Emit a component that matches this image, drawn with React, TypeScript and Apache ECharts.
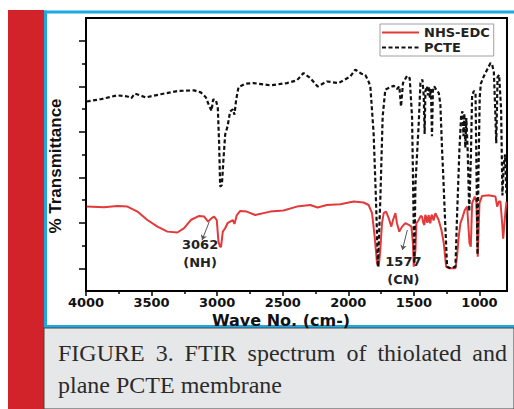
import React, { useEffect, useRef } from "react";
import * as echarts from "echarts";

// ---- data ----
const xTicks = [4000, 3500, 3000, 2500, 2000, 1500, 1000];
const xMinorTicks = [3750, 3250, 2750, 2250, 1750, 1250];
const yMajorTicks = [1, 3, 5, 7, 9, 11];
const yMinorTicks = [2, 4, 6, 8, 10];

const pcteWn = [3995, 3888, 3761, 3684, 3654, 3628, 3545, 3430, 3303, 3176, 3125, 3087, 3061, 3043, 3031, 3010, 2995, 2985, 2977, 2964, 2952, 2939, 2921, 2901, 2880, 2868, 2855, 2837, 2786, 2723, 2595, 2468, 2392, 2341, 2290, 2234, 2163, 2074, 1985, 1947, 1900, 1870, 1845, 1832, 1807, 1789, 1774, 1756, 1738, 1718, 1692, 1654, 1629, 1611, 1598, 1583, 1552, 1532, 1514, 1506, 1497, 1488, 1463, 1450, 1435, 1425, 1418, 1412, 1400, 1392, 1385, 1378, 1370, 1362, 1355, 1345, 1335, 1310, 1298, 1285, 1277, 1265, 1247, 1220, 1183, 1171, 1153, 1140, 1130, 1122, 1115, 1108, 1100, 1090, 1078, 1065, 1056, 1042, 1030, 1022, 1015, 1008, 998, 990, 970, 955, 935, 916, 903, 890, 880, 872, 862, 850, 835, 825, 815, 805, 795];
const pcteT = [8.33, 8.43, 8.6, 8.55, 8.48, 8.68, 8.51, 8.65, 8.79, 8.82, 8.73, 8.52, 8.14, 7.92, 8.41, 8.41, 8.04, 6.5, 4.59, 4.66, 5.77, 6.87, 7.23, 7.89, 7.99, 7.75, 8.41, 8.96, 9.11, 9.14, 9.04, 9.14, 9.26, 9.58, 9.36, 8.99, 9.21, 9.14, 9.43, 9.73, 9.55, 9.5, 9.2, 8.99, 6.94, 4.0, 1.07, 4.0, 7.67, 8.85, 8.92, 9.02, 8.88, 9.0, 8.11, 9.14, 9.46, 9.36, 7.67, 4.7, 1.2, 4.7, 7.38, 9.14, 9.29, 8.6, 6.9, 8.8, 9.0, 8.6, 9.0, 8.5, 8.9, 6.8, 8.8, 9.0, 8.9, 8.7, 8.2, 6.2, 5.2, 3.5, 1.07, 1.0, 1.07, 3.27, 6.2, 7.67, 7.9, 6.8, 7.8, 6.3, 7.6, 6.2, 3.5, 6.0, 8.6, 8.8, 8.7, 5.0, 1.6, 5.0, 8.5, 9.1, 9.4, 9.58, 9.8, 10.02, 9.95, 9.6, 8.0, 6.5, 9.4, 9.5, 8.0, 4.2, 5.5, 6.0, 4.3];

const nhsWn = [3995, 3863, 3761, 3684, 3608, 3532, 3455, 3379, 3303, 3252, 3201, 3137, 3099, 3069, 3043, 3023, 3003, 2990, 2978, 2970, 2957, 2939, 2921, 2901, 2880, 2868, 2850, 2824, 2774, 2710, 2595, 2494, 2392, 2290, 2234, 2163, 2061, 1959, 1883, 1845, 1819, 1799, 1781, 1768, 1756, 1743, 1730, 1712, 1692, 1672, 1659, 1641, 1629, 1611, 1590, 1565, 1539, 1519, 1507, 1501, 1488, 1481, 1463, 1448, 1438, 1428, 1420, 1413, 1407, 1398, 1387, 1380, 1374, 1367, 1361, 1350, 1336, 1311, 1290, 1272, 1254, 1234, 1183, 1171, 1158, 1145, 1127, 1112, 1094, 1076, 1066, 1056, 1036, 1023, 1013, 1000, 980, 929, 878, 865, 852, 840, 827, 819, 801, 794];
const nhsT = [3.71, 3.68, 3.74, 3.71, 3.49, 3.12, 2.83, 2.61, 2.57, 2.76, 3.12, 3.3, 3.27, 3.05, 3.2, 3.27, 3.12, 2.17, 1.95, 1.95, 2.61, 2.76, 2.98, 3.05, 3.12, 2.95, 3.34, 3.52, 3.49, 3.34, 3.49, 3.54, 3.71, 3.78, 3.67, 3.78, 3.81, 3.93, 3.89, 3.78, 3.42, 2.39, 1.22, 1.07, 1.8, 2.98, 3.42, 3.49, 3.2, 2.83, 3.12, 3.42, 2.98, 2.61, 2.83, 2.98, 2.91, 2.83, 2.1, 1.07, 1.8, 2.98, 3.12, 3.3, 3.27, 3.0, 2.9, 3.35, 3.27, 3.0, 3.34, 3.05, 2.98, 3.3, 3.34, 3.1, 3.42, 3.12, 2.68, 2.1, 1.07, 1.0, 1.0, 1.51, 2.39, 2.98, 3.27, 3.56, 3.71, 2.1, 1.95, 3.86, 4.15, 3.9, 1.51, 3.86, 4.18, 4.21, 4.15, 3.71, 3.93, 3.93, 2.98, 2.3, 3.56, 3.93];

const seriesNames = ["NHS-EDC", "PCTE"];
const annotations = [
  { text: "3062\n(NH)", wn: 3130, t: 1.63, from: [3061, 3.03], to: [3115, 2.24] },
  { text: "1577\n(CN)", wn: 1580, t: 0.92, from: [1550, 2.68], to: [1588, 1.8] },
];
const captionLine1 = ["FIGURE", "3.", "FTIR", "spectrum", "of", "thiolated", "and"];
const captionLine2 = "plane PCTE membrane";

const BOLD_WIDE = "DejaVu Sans";
const CAPTION_FONT = "24px 'Liberation Serif', 'Times New Roman', serif";

export default function App() {
  const ref = useRef<HTMLDivElement>(null);
  useEffect(() => {
    if (!ref.current) return;
    const chart = echarts.init(ref.current, undefined, { renderer: "svg" });
    const zip = (a: number[], b: number[]) => a.map((v, i) => [v, b[i]]);

    // justify caption line 1 between left and right edges
    const capLeft = 58;
    const capRight = 507;
    const ctx = document.createElement("canvas").getContext("2d")!;
    ctx.font = CAPTION_FONT;
    const widths = captionLine1.map((w) => ctx.measureText(w).width);
    const total = widths.reduce((s, w) => s + w, 0);
    const gap = (capRight - capLeft - total) / (captionLine1.length - 1);
    const wordX: number[] = [];
    let cx = capLeft;
    widths.forEach((w) => {
      wordX.push(cx);
      cx += w + gap;
    });

    const xCommon = {
      type: "value" as const,
      min: 790,
      max: 4000,
      inverse: true,
      position: "bottom" as const,
      splitLine: { show: false },
    };
    const yCommon = {
      type: "value" as const,
      min: 0,
      max: 12,
      position: "left" as const,
      splitLine: { show: false },
      axisLabel: { show: false },
    };
    const graphics: any[] = [
      { type: "rect", z: -10, shape: { x: 8, y: 10, width: 36, height: 399 }, style: { fill: "#d2222a" } },
      { type: "rect", z: -10, shape: { x: 44, y: 10.5, width: 470, height: 3 }, style: { fill: "#1ea7e1" } },
      { type: "rect", z: -10, shape: { x: 44, y: 10.5, width: 3, height: 317 }, style: { fill: "#1ea7e1" } },
      { type: "rect", z: -10, shape: { x: 44, y: 325, width: 470, height: 3 }, style: { fill: "#1ea7e1" } },
      { type: "rect", z: -10, shape: { x: 44, y: 328, width: 470, height: 81 }, style: { fill: "#e6e7e9", stroke: "#444", lineWidth: 1 } },
      {
        type: "text", x: 55, y: 166, rotation: Math.PI / 2,
        style: { text: "% Transmittance", font: "bold 17px 'Liberation Sans', Arial, sans-serif", fill: "#111", align: "center", verticalAlign: "middle" },
      },
      {
        type: "text", x: 281, y: 320,
        style: { text: "Wave No. (cm-)", font: `bold 16px '${BOLD_WIDE}', sans-serif`, fill: "#111", align: "center", verticalAlign: "middle" },
      },
      ...captionLine1.map((w, i) => ({
        type: "text", x: wordX[i], y: 353,
        style: { text: w, font: CAPTION_FONT, fill: "#2b2b2b", align: "left", verticalAlign: "middle" },
      })),
      {
        type: "text", x: capLeft, y: 385,
        style: { text: captionLine2, font: CAPTION_FONT, fill: "#2b2b2b", align: "left", verticalAlign: "middle" },
      },
    ];
    chart.setOption({
      animation: false,
      backgroundColor: "#ffffff",
      grid: { left: 86, right: 7, top: 18, bottom: 118, show: true, borderColor: "#000", borderWidth: 2, backgroundColor: "transparent" },
      legend: {
        data: seriesNames,
        orient: "vertical",
        left: 380,
        top: 24,
        padding: [2, 4, 2, 1],
        itemGap: 2,
        itemWidth: 37,
        itemHeight: 12,
        borderColor: "#a0a0a0",
        borderWidth: 1,
        backgroundColor: "#fff",
        itemStyle: { opacity: 0 },
        textStyle: { fontFamily: BOLD_WIDE, fontWeight: "bold", fontSize: 13, color: "#222", lineHeight: 13 },
      },
      xAxis: [
        {
          ...xCommon,
          axisLine: { show: true, lineStyle: { color: "#000", width: 2 } },
          axisTick: { show: true, customValues: xTicks, length: 5, lineStyle: { color: "#000", width: 1.5 } },
          axisLabel: {
            show: true, customValues: xTicks, margin: 5,
            formatter: (v: number) => String(v),
            fontFamily: BOLD_WIDE, fontWeight: "bold", fontSize: 13, color: "#111",
          },
        },
        {
          ...xCommon,
          axisLine: { show: false },
          axisTick: { show: true, customValues: xMinorTicks, length: 3, lineStyle: { color: "#000", width: 1.5 } },
          axisLabel: { show: false },
        },
      ],
      yAxis: [
        {
          ...yCommon,
          axisLine: { show: true, lineStyle: { color: "#000", width: 2 } },
          axisTick: { show: true, customValues: yMajorTicks, length: 7, lineStyle: { color: "#000", width: 1.5 } },
        },
        {
          ...yCommon,
          axisLine: { show: false },
          axisTick: { show: true, customValues: yMinorTicks, length: 4, lineStyle: { color: "#000", width: 1.5 } },
        },
      ],
      series: [
        {
          name: seriesNames[0],
          type: "line",
          data: zip(nhsWn, nhsT),
          symbol: "none",
          z: 2,
          lineStyle: { color: "#e23a3a", width: 2 },
          itemStyle: { color: "#e23a3a" },
          markPoint: {
            symbol: "circle",
            symbolSize: 0,
            silent: true,
            data: annotations.map((a) => ({ coord: [a.wn, a.t], value: a.text })),
            label: {
              show: true,
              position: "inside",
              formatter: (p: any) => p.value,
              fontFamily: BOLD_WIDE,
              fontWeight: "bold",
              fontSize: 13,
              lineHeight: 18,
              color: "#222",
            },
          },
          markLine: {
            silent: true,
            symbol: ["none", "arrow"],
            symbolSize: 5,
            label: { show: false },
            lineStyle: { color: "#555", width: 1, type: "solid" },
            data: annotations.map((a) => [{ coord: a.from }, { coord: a.to }]),
          },
        },
        {
          name: seriesNames[1],
          type: "line",
          data: zip(pcteWn, pcteT),
          symbol: "none",
          z: 3,
          lineStyle: { color: "#111", width: 2.2, type: [4, 2.5] },
          itemStyle: { color: "#111" },
        },
      ],
      graphic: graphics,
    });
    return () => chart.dispose();
  }, []);
  return <div ref={ref} style={{ position: "absolute", left: 0, top: 0, width: 514, height: 409 }} />;
}
